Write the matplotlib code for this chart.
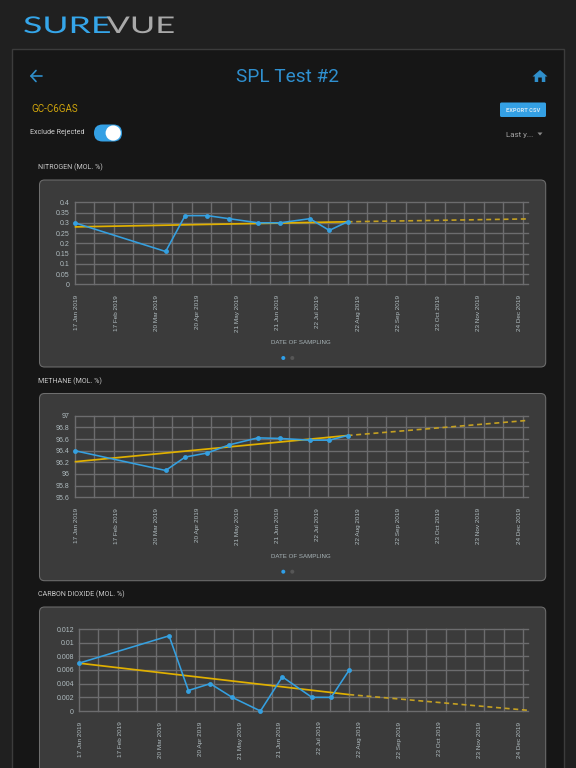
import numpy as np
import pandas as pd
import matplotlib
matplotlib.use('Agg')
import matplotlib.pyplot as plt
import matplotlib.dates as mdates
from matplotlib.patches import FancyBboxPatch, Circle, Rectangle, Polygon
from matplotlib.patheffects import AbstractPathEffect
from matplotlib.transforms import Affine2D

# ---------- data ----------
sample_dates = ['2019-01-17', '2019-03-28', '2019-04-12', '2019-04-29', '2019-05-16',
                '2019-06-07', '2019-06-24', '2019-07-17', '2019-08-01', '2019-08-15']
tick_dates = ['2019-01-17', '2019-02-17', '2019-03-20', '2019-04-20', '2019-05-21', '2019-06-21',
              '2019-07-22', '2019-08-22', '2019-09-22', '2019-10-23', '2019-11-23', '2019-12-24']
tick_labels = ['17 Jan 2019', '17 Feb 2019', '20 Mar 2019', '20 Apr 2019', '21 May 2019', '21 Jun 2019',
               '22 Jul 2019', '22 Aug 2019', '22 Sep 2019', '23 Oct 2019', '23 Nov 2019', '24 Dec 2019']
forecast_end = '2020-01-01'

nitrogen = [0.30, 0.16, 0.335, 0.335, 0.32, 0.30, 0.30, 0.32, 0.263, 0.305]
nitrogen_trend = [0.28, 0.305, 0.319]
nitrogen_ticks = [0, 0.05, 0.1, 0.15, 0.2, 0.25, 0.3, 0.35, 0.4]
nitrogen_ticklabels = ['0', '0.05', '0.1', '0.15', '0.2', '0.25', '0.3', '0.35', '0.4']

methane = [96.40, 96.06, 96.29, 96.36, 96.50, 96.62, 96.61, 96.58, 96.58, 96.66]
methane_trend = [96.21, 96.66, 96.92]
methane_ticks = [95.6, 95.8, 96, 96.2, 96.4, 96.6, 96.8, 97]
methane_ticklabels = ['95.6', '95.8', '96', '96.2', '96.4', '96.6', '96.8', '97']

co2 = [0.007, 0.011, 0.003, 0.004, 0.002, 0.0, 0.005, 0.002, 0.002, 0.006]
co2_trend = [0.007, 0.0024, 0.0001]
co2_ticks = [0, 0.002, 0.004, 0.006, 0.008, 0.01, 0.012]
co2_ticklabels = ['0', '0.002', '0.004', '0.006', '0.008', '0.01', '0.012']

chart_titles = ['NITROGEN (MOL. %)', 'METHANE (MOL. %)', 'CARBON DIOXIDE (MOL. %)']
x_title = 'DATE OF SAMPLING'

# ---------- styles ----------
PX = 0.72
BLUE = '#35a0e0'
GOLD = '#e0b000'
GOLD_DASH = '#c4a022'
TICK = '#b0bcc0'
GRID = '#6c6c6e'
CARD = '#3b3b3b'

fig = plt.figure(figsize=(5.76, 7.68), dpi=100, facecolor='#202020')
bg = fig.add_axes([0, 0, 1, 1])
bg.set_xlim(0, 576)
bg.set_ylim(768, 0)
bg.axis('off')


class StretchX(AbstractPathEffect):
    def __init__(self, sx, x0):
        super().__init__()
        self.sx, self.x0 = sx, x0

    def draw_path(self, renderer, gc, tpath, affine, rgbFace=None):
        a = affine + Affine2D().translate(-self.x0, 0).scale(self.sx, 1).translate(self.x0, 0)
        renderer.draw_path(gc, tpath, a, rgbFace)


def rbox(x0, y0, x1, y1, r, fc, ec='none', lw=0.7, z=1):
    p = FancyBboxPatch((x0, y0), x1 - x0, y1 - y0, boxstyle=f'round,pad=0,rounding_size={r}',
                       fc=fc, ec=ec, lw=lw, zorder=z, mutation_aspect=1)
    bg.add_patch(p)


def txt(x, y, s, size, color, ha='left', family='Roboto', **kw):
    return bg.text(x, y, s, fontsize=size * PX, color=color, ha=ha, va='center', family=family, zorder=5, **kw)


# panel
bg.add_patch(Rectangle((11.5, 48.5), 552.5, 730, fc='#161616', ec='#3c3c3c', lw=1.0, zorder=0.5))

# logo (real text, stretched horizontally)
for s, x, c, sx in [('SURE', 23, '#35a6ea', 1.55), ('VUE', 106.5, '#a9a9a9', 1.5)]:
    t = txt(x, 26.5, s, 23, c, family='Lato')
    t.set_path_effects([StretchX(sx, x)])

# header
txt(288, 76.5, 'SPL Test #2', 19, '#2f90d0', ha='center')
bg.plot([31, 41.5], [76, 76], color='#2f8fcb', lw=1.2, solid_capstyle='round', zorder=5)
bg.plot([36, 31, 36], [70.5, 76, 81.5], color='#2f8fcb', lw=1.2, solid_capstyle='round', zorder=5)
bg.add_patch(Polygon([(540, 70), (547.5, 76.5), (545.3, 76.5), (545.3, 82), (541.8, 82), (541.8, 77.5),
                      (538.2, 77.5), (538.2, 82), (534.7, 82), (534.7, 76.5), (532.5, 76.5)],
                     fc='#2f8fcb', ec='none', zorder=5))
txt(31, 109.5, 'GC-C6GAS', 9.8, '#d0a50c')
rbox(500, 102.5, 546, 117, 1.5, '#34a0e4', z=3)
txt(523, 110, 'EXPORT CSV', 5.8, '#cfe6f5', ha='center', fontweight='bold')
txt(30, 133, 'Exclude Rejected', 7.2, '#d0d0d0')
rbox(94, 124.5, 122, 141.5, 8.5, '#34a0e4', z=3)
bg.add_patch(Circle((113.2, 133), 7.6, fc='white', ec='none', zorder=4))
txt(505.5, 134.5, 'Last y...', 8, '#a4a4a4')
bg.add_patch(Polygon([(537.5, 132.5), (542.5, 132.5), (540, 135.5)], fc='#8a8a8a', ec='none', zorder=5))

days = pd.to_datetime(sample_dates)
x_samples = mdates.date2num(days)
x_ticks = mdates.date2num(pd.to_datetime(tick_dates))
x_end = mdates.date2num(pd.Timestamp(forecast_end))
x_limit = (x_samples[0], x_samples[0] + 348.7)


def chart(left, top, bottom, title, title_y, card_top, card_bottom, values, trend, yticks, ylabels, footer=True):
    rbox(39.5, card_top, 545.7, card_bottom, 5, CARD, '#6e6e6e', 0.75)
    txt(37.5, title_y, title, 7.1, '#c9c9c9')
    ax = fig.add_axes([left / 576, 1 - bottom / 768, (527.7 - left) / 576, (bottom - top) / 768])
    ax.patch.set_alpha(0)
    ax.set_xlim(*x_limit)
    ax.set_ylim(yticks[0], yticks[-1])
    for s in ax.spines.values():
        s.set_visible(False)
    for y in yticks:
        ax.axhline(y, color=GRID, lw=1.0, zorder=1, clip_on=False)
    for xg in np.arange(x_samples[0], x_limit[1], 15):
        ax.axvline(xg, color=GRID, lw=1.0, zorder=1, clip_on=False)
    ax.set_yticks(yticks)
    ax.set_yticklabels(ylabels)
    ax.set_xticks(x_ticks)
    ax.set_xticklabels(tick_labels, rotation=90, va='top', ha='center')
    ax.tick_params(axis='y', length=0, pad=3.6, labelsize=7.0 * PX, labelcolor=TICK)
    ax.tick_params(axis='x', length=0, pad=7.7, labelsize=6.4 * PX, labelcolor=TICK)
    for lab in ax.get_xticklabels() + ax.get_yticklabels():
        lab.set_family('Liberation Sans')
    for lab in ax.get_xticklabels():
        lab.set_x(lab.get_position()[0])
        lab.set_transform(lab.get_transform() + Affine2D().translate(1.5, 0))
    xt = [x_samples[0], x_samples[-1]]
    ax.plot(xt, trend[:2], color=GOLD, lw=1.25, zorder=3, clip_on=False, solid_capstyle='butt')
    ax.plot([x_samples[-1], x_end], trend[1:], color=GOLD_DASH, lw=1.2, dashes=(3.0, 2.2), zorder=3,
            clip_on=False)
    ax.plot(x_samples, values, color=BLUE, lw=1.15, marker='o', ms=3.5, mew=0, zorder=4, clip_on=False)
    if footer:
        txt(301, card_bottom - 24, x_title, 6.1, '#a8b4b8', ha='center', family='Liberation Sans')
        bg.add_patch(Circle((283.3, card_bottom - 9), 2.0, fc='#2f9fe8', ec='none', zorder=5))
        bg.add_patch(Circle((292.3, card_bottom - 9), 2.0, fc='#565656', ec='none', zorder=5))


chart(74.7, 202.3, 284.3, chart_titles[0], 167, 180, 367, nitrogen, nitrogen_trend, nitrogen_ticks, nitrogen_ticklabels)
chart(74.7, 415.7, 497.3, chart_titles[1], 381, 393.5, 580.7, methane, methane_trend, methane_ticks, methane_ticklabels)
chart(79, 629, 711, chart_titles[2], 594, 607, 794, co2, co2_trend, co2_ticks, co2_ticklabels, footer=False)

fig.savefig('out.png', dpi=100, facecolor=fig.get_facecolor())
